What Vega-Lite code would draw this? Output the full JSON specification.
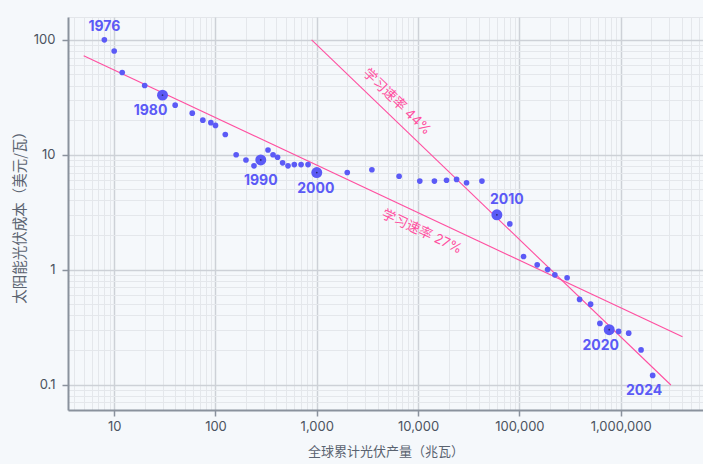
{
  "$schema": "https://vega.github.io/schema/vega-lite/v6.json",
  "width": 635,
  "height": 393,
  "autosize": {"type": "none"},
  "padding": {"left": 68, "top": 17, "right": 0, "bottom": 54},
  "background": "#f5f8fb",
  "config": {
    "view": {"stroke": "#e3e6ea", "strokeWidth": 1},
    "font": "Inter",
    "axis": {
      "labelFont": "Inter",
      "labelFontSize": 13,
      "labelColor": "#4b5360",
      "titleFont": "Noto Sans CJK SC",
      "titleFontWeight": "normal",
      "titleColor": "#5a6370",
      "domainColor": "#8a929d",
      "domainWidth": 2,
      "tickColor": "#8a929d",
      "tickWidth": 1.5,
      "tickSize": 6,
      "labelOverlap": false,
      "labelBound": false,
      "labelFlush": false
    }
  },
  "datasets": {
    "pv": [
      {"year": 1976, "mw": 8, "cost": 100},
      {"year": 1977, "mw": 10, "cost": 80},
      {"year": 1978, "mw": 12, "cost": 52},
      {"year": 1979, "mw": 20, "cost": 40},
      {"year": 1980, "mw": 30, "cost": 33},
      {"year": 1981, "mw": 40, "cost": 27},
      {"year": 1982, "mw": 59, "cost": 23},
      {"year": 1983, "mw": 75, "cost": 20},
      {"year": 1984, "mw": 90, "cost": 19},
      {"year": 1985, "mw": 100, "cost": 18},
      {"year": 1986, "mw": 125, "cost": 15},
      {"year": 1987, "mw": 160, "cost": 10},
      {"year": 1988, "mw": 200, "cost": 9},
      {"year": 1989, "mw": 240, "cost": 8},
      {"year": 1990, "mw": 280, "cost": 9},
      {"year": 1991, "mw": 330, "cost": 11},
      {"year": 1992, "mw": 370, "cost": 10},
      {"year": 1993, "mw": 410, "cost": 9.5},
      {"year": 1994, "mw": 460, "cost": 8.5},
      {"year": 1995, "mw": 520, "cost": 8},
      {"year": 1996, "mw": 600, "cost": 8.2},
      {"year": 1997, "mw": 700, "cost": 8.2},
      {"year": 1998, "mw": 820, "cost": 8.2},
      {"year": 2000, "mw": 1000, "cost": 7},
      {"year": 2001, "mw": 2000, "cost": 7},
      {"year": 2002, "mw": 3500, "cost": 7.4},
      {"year": 2003, "mw": 6500, "cost": 6.5},
      {"year": 2004, "mw": 10400, "cost": 5.9},
      {"year": 2005, "mw": 14500, "cost": 5.9},
      {"year": 2006, "mw": 19100, "cost": 6.0},
      {"year": 2007, "mw": 24000, "cost": 6.1},
      {"year": 2008, "mw": 30100, "cost": 5.7},
      {"year": 2009, "mw": 42700, "cost": 5.9},
      {"year": 2010, "mw": 60000, "cost": 3.0},
      {"year": 2011, "mw": 80500, "cost": 2.5},
      {"year": 2012, "mw": 110000, "cost": 1.3},
      {"year": 2013, "mw": 150000, "cost": 1.1},
      {"year": 2014, "mw": 190000, "cost": 1.0},
      {"year": 2015, "mw": 224000, "cost": 0.9},
      {"year": 2016, "mw": 296000, "cost": 0.85},
      {"year": 2017, "mw": 393000, "cost": 0.55},
      {"year": 2018, "mw": 505000, "cost": 0.5},
      {"year": 2019, "mw": 624000, "cost": 0.34},
      {"year": 2020, "mw": 771000, "cost": 0.3},
      {"year": 2021, "mw": 955000, "cost": 0.29},
      {"year": 2022, "mw": 1200000, "cost": 0.28},
      {"year": 2023, "mw": 1590000, "cost": 0.2},
      {"year": 2024, "mw": 2070000, "cost": 0.12}
    ],
    "trend": [
      {"rate": "27%", "mw": 5, "cost": 72.6},
      {"rate": "27%", "mw": 4080000, "cost": 0.26},
      {"rate": "44%", "mw": 889, "cost": 100},
      {"rate": "44%", "mw": 3130000, "cost": 0.099}
    ],
    "notes": [
      {"rate": "44%", "text": "学习速率 44%", "mw": 6180, "cost": 28.8},
      {"rate": "27%", "text": "学习速率 27%", "mw": 10900, "cost": 2.13}
    ]
  },
  "encoding": {
    "x": {
      "field": "mw", "type": "quantitative",
      "scale": {"type": "log", "domain": [3.5, 6500000], "nice": false},
      "axis": {
        "title": "全球累计光伏产量（兆瓦）",
        "titleFontSize": 13,
        "titlePadding": 12,
        "format": ",",
        "labelPadding": 4,
        "values": [4,5,6,7,8,9,10,20,30,40,50,60,70,80,90,100,200,300,400,500,600,700,800,900,1000,2000,3000,4000,5000,6000,7000,8000,9000,10000,20000,30000,40000,50000,60000,70000,80000,90000,100000,200000,300000,400000,500000,600000,700000,800000,900000,1000000,2000000,3000000,4000000,5000000,6000000],
        "labelExpr": "abs(log(datum.value)/LN10 - round(log(datum.value)/LN10)) < 0.001 ? datum.label : ''",
        "gridColor": {"condition": {"test": "abs(log(datum.value)/LN10 - round(log(datum.value)/LN10)) < 0.001", "value": "#cdd1d7"}, "value": "#e4e7eb"},
        "gridWidth": {"condition": {"test": "abs(log(datum.value)/LN10 - round(log(datum.value)/LN10)) < 0.001", "value": 1.5}, "value": 1},
        "tickOpacity": {"condition": {"test": "abs(log(datum.value)/LN10 - round(log(datum.value)/LN10)) < 0.001", "value": 1}, "value": 0}
      }
    },
    "y": {
      "field": "cost", "type": "quantitative",
      "scale": {"type": "log", "domain": [0.06, 158], "nice": false},
      "axis": {
        "title": "太阳能光伏成本（美元/瓦）",
        "titleFontSize": 14.5,
        "titlePadding": 6,
        "format": "~g",
        "labelPadding": 7,
        "values": [0.06,0.07,0.08,0.09,0.1,0.2,0.3,0.4,0.5,0.6,0.7,0.8,0.9,1,2,3,4,5,6,7,8,9,10,20,30,40,50,60,70,80,90,100],
        "labelExpr": "abs(log(datum.value)/LN10 - round(log(datum.value)/LN10)) < 0.001 ? datum.label : ''",
        "gridColor": {"condition": {"test": "abs(log(datum.value)/LN10 - round(log(datum.value)/LN10)) < 0.001", "value": "#cdd1d7"}, "value": "#e4e7eb"},
        "gridWidth": {"condition": {"test": "abs(log(datum.value)/LN10 - round(log(datum.value)/LN10)) < 0.001", "value": 1.5}, "value": 1},
        "tickOpacity": {"condition": {"test": "abs(log(datum.value)/LN10 - round(log(datum.value)/LN10)) < 0.001", "value": 1}, "value": 0}
      }
    }
  },
  "layer": [
    {
      "data": {"name": "trend"},
      "mark": {"type": "line", "color": "#ff4fa0", "strokeWidth": 1.1, "clip": true},
      "encoding": {"detail": {"field": "rate"}}
    },
    {
      "data": {"name": "pv"},
      "mark": {"type": "circle", "color": "#5b5af6", "opacity": 1},
      "encoding": {
        "size": {"condition": {"test": "datum.year % 10 === 0", "value": 120}, "value": 32}
      }
    },
    {
      "data": {"name": "pv"},
      "transform": [{"filter": "datum.year % 10 === 0"}],
      "mark": {"type": "circle", "color": "#2a2870", "size": 3, "opacity": 1}
    },
    {
      "data": {"name": "notes"},
      "transform": [{"filter": "datum.rate === '44%'"}],
      "mark": {"type": "text", "angle": 44, "color": "#ff4fa0", "font": "Inter, Noto Sans CJK SC", "fontSize": 13.5, "align": "center", "baseline": "middle"},
      "encoding": {"text": {"field": "text"}}
    },
    {
      "data": {"name": "notes"},
      "transform": [{"filter": "datum.rate === '27%'"}],
      "mark": {"type": "text", "angle": 25, "color": "#ff4fa0", "font": "Inter, Noto Sans CJK SC", "fontSize": 13.5, "align": "center", "baseline": "middle"},
      "encoding": {"text": {"field": "text"}}
    },
    {
      "data": {"name": "pv"},
      "transform": [{"filter": "datum.year === 1976"}],
      "mark": {"type": "text", "color": "#5b5af6", "fontWeight": "bold", "fontSize": 14, "align": "center", "baseline": "middle", "dy": -13},
      "encoding": {"text": {"field": "year", "type": "nominal"}}
    },
    {
      "data": {"name": "pv"},
      "transform": [{"filter": "datum.year === 1980"}],
      "mark": {"type": "text", "color": "#5b5af6", "fontWeight": "bold", "fontSize": 14, "align": "center", "baseline": "middle", "dx": -12, "dy": 15.5},
      "encoding": {"text": {"field": "year", "type": "nominal"}}
    },
    {
      "data": {"name": "pv"},
      "transform": [{"filter": "datum.year === 1990"}],
      "mark": {"type": "text", "color": "#5b5af6", "fontWeight": "bold", "fontSize": 14, "align": "center", "baseline": "middle", "dy": 21},
      "encoding": {"text": {"field": "year", "type": "nominal"}}
    },
    {
      "data": {"name": "pv"},
      "transform": [{"filter": "datum.year === 2000"}],
      "mark": {"type": "text", "color": "#5b5af6", "fontWeight": "bold", "fontSize": 14, "align": "center", "baseline": "middle", "dx": -1, "dy": 16.5},
      "encoding": {"text": {"field": "year", "type": "nominal"}}
    },
    {
      "data": {"name": "pv"},
      "transform": [{"filter": "datum.year === 2010"}],
      "mark": {"type": "text", "color": "#5b5af6", "fontWeight": "bold", "fontSize": 14, "align": "center", "baseline": "middle", "dx": 10, "dy": -15},
      "encoding": {"text": {"field": "year", "type": "nominal"}}
    },
    {
      "data": {"name": "pv"},
      "transform": [{"filter": "datum.year === 2020 || datum.year === 2024"}],
      "mark": {"type": "text", "color": "#5b5af6", "fontWeight": "bold", "fontSize": 14, "align": "center", "baseline": "middle", "dx": -8.5, "dy": 16},
      "encoding": {"text": {"field": "year", "type": "nominal"}}
    }
  ]
}
